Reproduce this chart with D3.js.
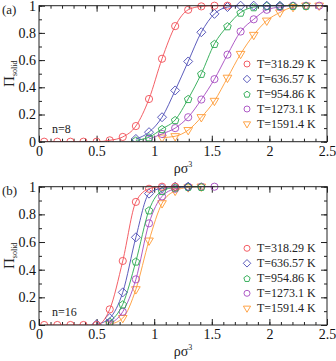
<!DOCTYPE html>
<html>
<head>
<meta charset="utf-8">
<script src="https://cdn.jsdelivr.net/npm/d3@7"></script>
<style>
body{margin:0;background:#fff}
svg text{font-family:"Liberation Serif","Times New Roman",serif}
</style>
</head>
<body>
<script>
// densities (rho sigma^3)
var rho = [0.045,0.159,0.273,0.386,0.5,0.614,0.727,0.841,0.955,1.068,1.182,1.295,1.409,1.523,1.636,1.75,1.864,1.977,2.091,2.205,2.318,2.432]

var temps = ["T=318.29 K","T=636.57 K","T=954.86 K","T=1273.1 K","T=1591.4 K"]
var colors = ["#f24d55","#4a4ab4","#27a84e","#a548c0","#ff9a33"]
var shapes = ["circle","diamond","pentagon","circle","triangle"]

// panel (a) n=8 : first index into rho, then values
var a_start = [0,7,7,8,9]
var a_T1 = [0,0,0,0,0,0.01,0.035,0.115,0.314,0.61,0.85,0.97,0.995,1,1]
var a_T2 = [0.02,0.07,0.18,0.377,0.59,0.805,0.94,0.99,1,1,1,1]
var a_T3 = [0.01,0.033,0.094,0.16,0.315,0.5,0.72,0.85,0.95,0.99,1,1,1,1]
var a_T4 = [0.02,0.057,0.1,0.18,0.31,0.46,0.64,0.81,0.9,0.97,0.99,1,1,1]
var a_T5 = [0.03,0.04,0.085,0.18,0.3,0.47,0.645,0.785,0.89,0.95,0.99,1,1,1]

// panel (b) n=16
var b_start = [0,4,5,5,5]
var b_T1 = [0,0,0,0,0,0.113,0.463,0.89,0.985,1,1]
var b_T2 = [0.005,0.05,0.236,0.634,0.95,0.99,1,1]
var b_T3 = [0.025,0.15,0.46,0.83,0.97,0.995,1,1]
var b_T4 = [0.01,0.096,0.33,0.735,0.93,0.985,1,1,1]
var b_T5 = [0.005,0.05,0.258,0.61,0.88,0.97,0.995,1]

var xticks = [0,0.5,1,1.5,2,2.5]
var yticks = [0,0.2,0.4,0.6,0.8,1]

var SERIF = "'Liberation Serif','Times New Roman',serif"
var W=336, H=361
var svg = d3.select("body").append("svg").attr("width",W).attr("height",H)

function toPts(start,vals){
	return vals.map(function(v,i){return [rho[start+i],v]})
}

function marker(shape,r){
	if(shape=="circle") return d3.symbol().type(d3.symbolCircle).size(Math.PI*r*r)()
	if(shape=="diamond"){
		var d=r*1.25
		return "M0,"+(-d)+"L"+d+",0L0,"+d+"L"+(-d)+",0Z"
	}
	if(shape=="pentagon"){
		var p=[]
		for(var k=0;k<5;k++){
			var a=-Math.PI/2+k*2*Math.PI/5
			p.push([r*1.1*Math.cos(a),r*1.1*Math.sin(a)+0.5])
		}
		return "M"+p.join("L")+"Z"
	}
	// downward triangle
	var t=r*1.2
	return "M"+(-t)+","+(-t*0.6)+"L"+t+","+(-t*0.6)+"L0,"+(t*1.1)+"Z"
}

function panel(top,bottom,label,nlabel,series,legTop){
	var x=d3.scaleLinear().domain([0,2.5]).range([39,327])
	var y=d3.scaleLinear().domain([0,1]).range([bottom,top])
	var g=svg.append("g")
	var clipId="clip"+label.replace(/\W/g,"")
	g.append("clipPath").attr("id",clipId).append("rect")
		.attr("x",x(0)).attr("y",y(1)-6).attr("width",x(2.5)-x(0)).attr("height",y(0)-y(1)+6)

	var minor=d3.range(0,2.501,0.1)
	var minorY=d3.range(0,1.001,0.1)
	// ticks on all four sides, inward
	g.append("g").attr("transform","translate(0,"+y(0)+")")
		.call(d3.axisBottom(x).tickValues(minor).tickSize(-3).tickFormat(""))
	g.append("g").attr("transform","translate(0,"+y(0)+")")
		.call(d3.axisBottom(x).tickValues(xticks).tickSize(-6).tickPadding(4).tickFormat(d3.format("~g")))
	g.append("g").attr("transform","translate(0,"+y(1)+")")
		.call(d3.axisTop(x).tickValues(minor).tickSize(-3).tickFormat(""))
	g.append("g").attr("transform","translate(0,"+y(1)+")")
		.call(d3.axisTop(x).tickValues(xticks).tickSize(-6).tickFormat(""))
	g.append("g").attr("transform","translate("+x(0)+",0)")
		.call(d3.axisLeft(y).tickValues(minorY).tickSize(-3).tickFormat(""))
	g.append("g").attr("transform","translate("+x(0)+",0)")
		.call(d3.axisLeft(y).tickValues(yticks).tickSize(-6).tickPadding(3).tickFormat(d3.format("~g")))
	g.append("g").attr("transform","translate("+x(2.5)+",0)")
		.call(d3.axisRight(y).tickValues(minorY).tickSize(-3).tickFormat(""))
	g.append("g").attr("transform","translate("+x(2.5)+",0)")
		.call(d3.axisRight(y).tickValues(yticks).tickSize(-6).tickFormat(""))
	g.selectAll(".domain").remove()
	g.selectAll("g").attr("font-family",SERIF)
	g.selectAll(".tick line").attr("stroke","#222")
	g.selectAll(".tick text").attr("font-size","14px").attr("fill","#111")

	var plot=g.append("g").attr("clip-path","url(#"+clipId+")")
	var line=d3.line().x(function(d){return x(d[0])}).y(function(d){return y(d[1])}).curve(d3.curveMonotoneX)
	series.slice().reverse().forEach(function(s,j){
		var i=series.length-1-j
		plot.append("path").attr("d",line(s)).attr("fill","none")
			.attr("stroke",colors[i]).attr("stroke-width",0.9)
		plot.selectAll(null).data(s).enter().append("path")
			.attr("transform",function(d){return "translate("+x(d[0])+","+y(d[1])+")"})
			.attr("d",marker(shapes[i],3.6))
			.attr("fill","none").attr("stroke",colors[i]).attr("stroke-width",0.9)
	})

	g.append("rect").attr("x",x(0)).attr("y",y(1)).attr("width",x(2.5)-x(0)).attr("height",y(0)-y(1))
		.attr("fill","none").attr("stroke","#222").attr("stroke-width",1)

	// legend
	temps.forEach(function(t,i){
		var ly=legTop+i*15
		g.append("path").attr("transform","translate(247,"+ly+")")
			.attr("d",marker(shapes[i],3)).attr("fill","none")
			.attr("stroke",colors[i]).attr("stroke-width",0.9)
		g.append("text").attr("x",257).attr("y",ly+4).attr("font-family",SERIF)
			.attr("font-size","12px").attr("fill","#222").text(t)
	})

	g.append("text").attr("x",2).attr("y",top+8).attr("font-family",SERIF)
		.attr("font-size","13px").attr("fill","#222").text(label)
	g.append("text").attr("x",52).attr("y",y(0.065)).attr("font-family",SERIF)
		.attr("font-size","12px").attr("fill","#222").text(nlabel)

	// axis titles
	var xt=g.append("text").attr("x",183).attr("y",bottom+31).attr("text-anchor","middle")
		.attr("font-family",SERIF).attr("font-size","14px").attr("fill","#222")
	xt.append("tspan").text("ρσ")
	xt.append("tspan").attr("dy",-6).attr("font-size","8px").text("3")

	var cy=(top+bottom)/2
	var yt=g.append("text").attr("transform","translate(14,"+cy+") rotate(-90)").attr("text-anchor","middle")
		.attr("font-family",SERIF).attr("fill","#222")
	yt.append("tspan").attr("font-size","15px").text("Π")
	yt.append("tspan").attr("font-size","8px").attr("dy",3).text("solid")
}

panel(5.7,141.7,"(a)","n=8",[
	toPts(a_start[0],a_T1),toPts(a_start[1],a_T2),toPts(a_start[2],a_T3),toPts(a_start[3],a_T4),toPts(a_start[4],a_T5)
],64)

panel(186.7,325,"(b)","n=16",[
	toPts(b_start[0],b_T1),toPts(b_start[1],b_T2),toPts(b_start[2],b_T3),toPts(b_start[3],b_T4),toPts(b_start[4],b_T5)
],248.3)
</script>
</body>
</html>
